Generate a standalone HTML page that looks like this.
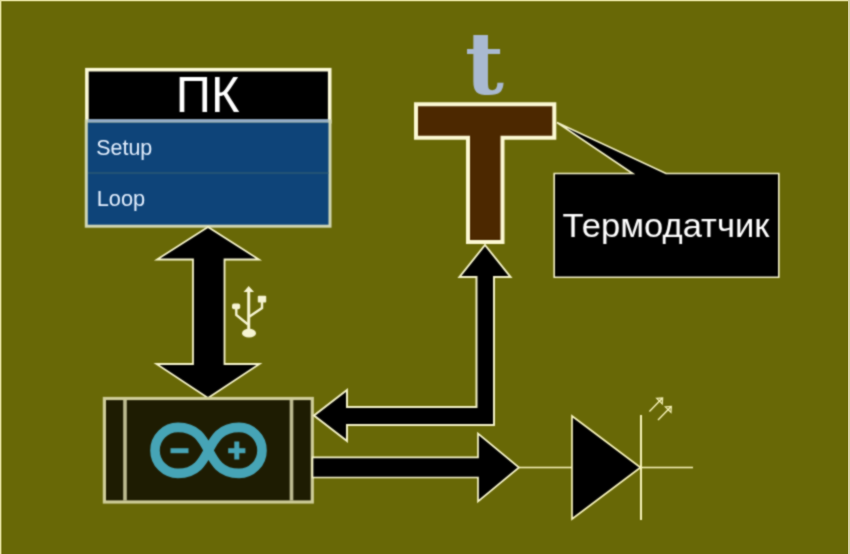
<!DOCTYPE html>
<html lang="ru">
<head>
<meta charset="utf-8">
<title>Arduino — ПК — Термодатчик</title>
<style>
html,body{margin:0;padding:0;background:#686806;overflow:hidden;}
body{width:850px;height:554px;position:relative;font-family:"Liberation Sans",sans-serif;}
svg{position:absolute;left:0;top:0;display:block;}
text{font-family:"Liberation Sans",sans-serif;}
</style>
</head>
<body>
<svg width="850" height="554" viewBox="0 0 850 554">
  <!-- background -->
  <rect x="0" y="0" width="850" height="554" fill="#686806"/>
  <!-- outer frame -->
  <rect x="0" y="0" width="850" height="1.3" fill="#e6e2a0"/>
  <rect x="0" y="0" width="1.4" height="554" fill="#e6e2a0"/>
  <rect x="848" y="0" width="2" height="554" fill="#d8d0a8"/>

  <defs><filter id="soft" filterUnits="userSpaceOnUse" x="0" y="0" width="850" height="554" color-interpolation-filters="sRGB"><feConvolveMatrix order="3" kernelMatrix="1 2 1 2 8 2 1 2 1" divisor="20" edgeMode="duplicate" preserveAlpha="false"/></filter></defs>
  <g id="art" filter="url(#soft)">
  <!-- PC box -->
  <g id="pc">
    <rect x="86.9" y="69.7" width="242.8" height="52" fill="#000" stroke="#fcfad8" stroke-width="3.6"/>
    <rect x="86.3" y="121" width="243.7" height="105.2" fill="#0e4479" stroke="#d0d6b4" stroke-width="3"/>
    <rect x="88" y="119.2" width="240.4" height="2.6" fill="#8eaac8"/>
    <rect x="88" y="172.3" width="240.4" height="1.4" fill="#2c5a74"/>
    <text x="0" y="0" font-size="49.3" fill="#fff" text-anchor="middle" transform="translate(207.6 112.2) scale(0.993 1)">ПК</text>
    <text x="0" y="0" font-size="22" fill="#e4f0ff" transform="translate(96.2 154.9) scale(0.975 1)">Setup</text>
    <text x="0" y="0" font-size="22" fill="#e4f0ff" transform="translate(96.7 206.1) scale(0.99 1)">Loop</text>
  </g>

  <!-- vertical double arrow PC <-> Arduino -->
  <polygon points="208,227 259,259.5 224.5,259.5 224.5,364 259.5,364 208,398 156.5,364 193,364 193,259.5 157,259.5"
           fill="#000" stroke="#f8f6cc" stroke-width="1.8" stroke-linejoin="miter"/>

  <!-- USB icon -->
  <g id="usb" fill="#f6f4d2" stroke="none">
    <polygon points="248.7,286 254,292 243.6,292"/>
    <rect x="247.2" y="291" width="3" height="39"/>
    <ellipse cx="249" cy="333.2" rx="7" ry="4.4"/>
    <rect x="257.8" y="295.8" width="8.4" height="6.6" rx="1"/>
    <rect x="232" y="303.4" width="8.2" height="5.8" rx="2"/>
    <path d="M262 302 V308 L249.5 316.5" fill="none" stroke="#f6f4d2" stroke-width="2.4"/>
    <path d="M236.3 309 V315 L248 324.5" fill="none" stroke="#f6f4d2" stroke-width="2.4"/>
  </g>

  <!-- Arduino box -->
  <g id="arduino">
    <rect x="104.4" y="398.5" width="207.9" height="103.5" fill="#1e1c02" stroke="#cecc98" stroke-width="3.2"/>
    <rect x="123.2" y="400" width="3.6" height="100.5" fill="#bcba90"/>
    <rect x="289.7" y="400" width="3.6" height="100.5" fill="#bcba90"/>
    <path d="M178 427.4 A 23 23 0 0 0 178 473.4 C 215 473.4, 202 427.4, 239 427.4 A 23 23 0 0 1 239 473.4 C 202 473.4, 215 427.4, 178 427.4 Z"
          fill="none" stroke="#46a4b6" stroke-width="9.6" stroke-linejoin="round"/>
    <rect x="170.5" y="448.2" width="18" height="5" fill="#46a4b6"/>
    <rect x="228.2" y="448.2" width="17.2" height="5" fill="#46a4b6"/>
    <rect x="234.3" y="441.5" width="5" height="18" fill="#46a4b6"/>
  </g>

  <!-- letter t -->
  <text x="0" y="0" font-size="87" font-weight="bold" fill="#a9b9d1" style="font-family:'DejaVu Serif','Liberation Serif',serif" transform="translate(464.9 93.9) scale(0.97 1)">t</text>

  <!-- thermo sensor T shape -->
  <polygon points="416,104.2 554.3,104.2 554.3,137.7 502.5,137.7 502.5,242 468,242 468,137.7 416,137.7"
           fill="#4c2800" stroke="#fbf8d2" stroke-width="4" stroke-linejoin="miter"/>

  <!-- callout -->
  <polygon points="554.2,173.5 632.7,173.5 557,122.5 666,173.5 778.8,173.5 778.8,277.2 554.2,277.2"
           fill="#000" stroke="#f4f2c8" stroke-width="1.6" stroke-linejoin="miter"/>
  <text x="0" y="0" font-size="33.9" fill="#fff" text-anchor="middle" transform="translate(666 237.1) scale(1.02 1)">Термодатчик</text>

  <!-- L-shaped arrow Arduino <-> sensor -->
  <polygon points="485,245 510.5,277 494,277 494,425 347,425 347,441 314,415.5 347,390 347,407 476.5,407 476.5,277 459.5,277"
           fill="#000" stroke="#f4f2c8" stroke-width="2" stroke-linejoin="miter"/>

  <!-- right arrow Arduino -> LED -->
  <polygon points="312.5,457.3 478,457.3 478,433.5 519,467.5 478,501.5 478,477.5 312.5,477.5"
           fill="#000" stroke="#f8f6cc" stroke-width="1.7" stroke-linejoin="miter"/>

  <!-- LED -->
  <g id="led" stroke="#f8f4bc" stroke-width="1.7" fill="none">
    <line x1="519" y1="467.5" x2="693" y2="467.5"/>
    <polygon points="572,416 640.5,467.5 572,519" fill="#000"/>
    <line x1="641" y1="415" x2="641" y2="520" stroke-width="2"/>
    <path d="M649.4 411.4 L662 398.6" stroke-width="1.4"/>
    <path d="M656.6 398.3 L662.7 397.9 L662.3 404 Z" stroke-width="1.1" fill="#f4f0b4" fill-opacity="0.25"/>
    <path d="M658 420 L670.7 407" stroke-width="1.4"/>
    <path d="M665.2 406.8 L671.4 406.3 L671 412.5 Z" stroke-width="1.1" fill="#f4f0b4" fill-opacity="0.25"/>
  </g>
</g>
</svg>
</body>
</html>
